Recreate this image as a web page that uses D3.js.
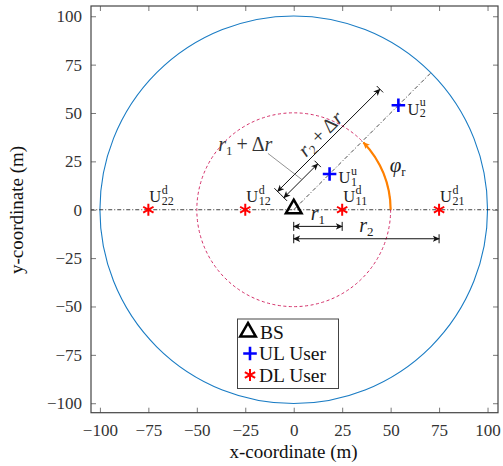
<!DOCTYPE html>
<html>
<head>
<meta charset="utf-8">
<script src="https://cdn.jsdelivr.net/npm/d3@7"></script>
<style>
  body { margin: 0; background: #fff; }
  svg { display: block; font-family: "Liberation Serif", serif; }
</style>
</head>
<body>
<div id="chart"></div>
<script>
'use strict';
// positions (m)
const bsX = [0], bsY = [0];
const ulX = [18.5, 54], ulY = [18.5, 54], ulSub = ["1", "2"];
const dlX = [25, -25, 75, -75], dlY = [0, 0, 0, 0], dlSub = ["11", "12", "21", "22"];
const circleR = [100, 50];
const rVals = [25, 75];          // r1, r2
const rDeltaVals = [25.5, 75.5]; // r1+dr, r2+dr
const phiDeg = 44;
const ticks = [-100, -75, -50, -25, 0, 25, 50, 75, 100];
const legendLabels = ["BS", "UL User", "DL User"];

const W = 503, H = 466;
const svg = d3.select("#chart").append("svg").attr("width", W).attr("height", H);

const x = d3.scaleLinear().domain([-104.6, 105.4]).range([91, 498]);
const y = d3.scaleLinear().domain([-104.9, 105.3]).range([412.7, 6]);
const k = x(1) - x(0);

const defs = svg.append("defs");
defs.append("clipPath").attr("id", "clip").append("rect")
  .attr("x", 91).attr("y", 6).attr("width", 407).attr("height", 406.7);
function arrowMarker(id, col) {
  defs.append("marker").attr("id", id).attr("viewBox", "0 -5 10 10")
    .attr("refX", 9).attr("refY", 0).attr("markerWidth", 7).attr("markerHeight", 7)
    .attr("markerUnits", "userSpaceOnUse").attr("orient", "auto-start-reverse")
    .append("path").attr("d", "M0,-4.5L10,0L0,4.5L2.5,0Z").attr("fill", col);
}
arrowMarker("ah", "#111");
arrowMarker("ahO", "#ff8000");

const plot = svg.append("g").attr("clip-path", "url(#clip)");

// circles
plot.selectAll("circle.r").data(circleR).enter().append("circle")
  .attr("cx", x(0)).attr("cy", y(0)).attr("r", d => d * k)
  .attr("fill", "none")
  .attr("stroke", (d, i) => i === 0 ? "#1a7cc4" : "#d4306a")
  .attr("stroke-width", (d, i) => i === 0 ? 1.1 : 1)
  .attr("stroke-dasharray", (d, i) => i === 0 ? null : "3,2.5");

// dash-dot reference lines
plot.append("line").attr("x1", x(-105)).attr("x2", x(105)).attr("y1", y(0)).attr("y2", y(0))
  .attr("stroke", "#111").attr("stroke-width", 0.8).attr("stroke-dasharray", "4,2,1,2");
const c45 = Math.cos(Math.PI / 4);
plot.append("line").attr("x1", x(0)).attr("y1", y(0)).attr("x2", x(100 * c45)).attr("y2", y(100 * c45))
  .attr("stroke", "#222").attr("stroke-width", 0.8).attr("stroke-dasharray", "4,2,1,2");

// dimension arrows
function dim(x1, y1, x2, y2) {
  const dx = x2 - x1, dy = y2 - y1, L = Math.hypot(dx, dy);
  const nx = -dy / L * 4.5, ny = dx / L * 4.5;
  const g = svg.append("g").attr("stroke", "#111").attr("stroke-width", 1);
  g.append("line").attr("x1", x1).attr("y1", y1).attr("x2", x2).attr("y2", y2)
    .attr("marker-start", "url(#ah)").attr("marker-end", "url(#ah)");
  [[x1, y1], [x2, y2]].forEach(p => g.append("line")
    .attr("x1", p[0] - nx).attr("y1", p[1] - ny).attr("x2", p[0] + nx).attr("y2", p[1] + ny));
}
dim(x(0), y(-8.6), x(rVals[0]), y(-8.6));
dim(x(0), y(-15), x(rVals[1]), y(-15));
const offs = [8, 12.6];
function diag(a, o) { return [x(a * c45 - o * c45), y(a * c45 + o * c45)]; }
rDeltaVals.forEach((v, i) => {
  const p1 = diag(0.8, offs[i]), p2 = diag(v, offs[i]);
  dim(p1[0], p1[1], p2[0], p2[1]);
});

// leader line
const lp = diag(14, offs[0]);
svg.append("line").attr("x1", x(-13.3)).attr("y1", y(29.1)).attr("x2", lp[0]).attr("y2", lp[1])
  .attr("stroke", "#777").attr("stroke-width", 0.8);

// phi arc
const arcP = d3.path();
const R = 50 * k;
arcP.moveTo(x(0) + R, y(0));
arcP.arc(x(0), y(0), R, 0, -phiDeg * Math.PI / 180, true);
svg.append("path").attr("d", arcP.toString()).attr("fill", "none")
  .attr("stroke", "#ff8000").attr("stroke-width", 2.2).attr("marker-end", "url(#ahO)");

// math labels
function mathLabel(sel, parts) {
  parts.forEach(p => {
    const t = sel.append("tspan").text(p.t);
    if (p.it) t.attr("font-style", "italic");
    if (p.fs) t.attr("font-size", p.fs);
    if (p.dy) t.attr("dy", p.dy);
  });
}
const lab1 = svg.append("text").attr("x", x(-25)).attr("y", y(30.3)).attr("text-anchor", "middle")
  .attr("font-size", 20).attr("fill", "#333");
mathLabel(lab1, [{t: "r", it: true}, {t: "1", fs: 13, dy: 4}, {t: "\u2009+\u2009\u0394", dy: -4}, {t: "r", it: true}]);
const lc = diag(37.5, 14.6);
const lab2 = svg.append("text").attr("transform", `translate(${lc[0]},${lc[1]}) rotate(-45)`)
  .attr("text-anchor", "middle").attr("font-size", 20).attr("fill", "#333");
mathLabel(lab2, [{t: "r", it: true}, {t: "2", fs: 13, dy: 4}, {t: "\u2009+\u2009\u0394", dy: -4}, {t: "r", it: true}]);
const lr1 = svg.append("text").attr("x", x(12.5)).attr("y", y(-5.2)).attr("text-anchor", "middle")
  .attr("font-size", 20).attr("fill", "#222");
mathLabel(lr1, [{t: "r", it: true}, {t: "1", fs: 13, dy: 4}]);
const lr2 = svg.append("text").attr("x", x(37.5)).attr("y", y(-11.4)).attr("text-anchor", "middle")
  .attr("font-size", 20).attr("fill", "#222");
mathLabel(lr2, [{t: "r", it: true}, {t: "2", fs: 13, dy: 4}]);
const lphi = svg.append("text").attr("x", x(49.5)).attr("y", y(19.3))
  .attr("font-size", 21).attr("fill", "#222");
mathLabel(lphi, [{t: "\u03c6", it: true}, {t: "r", fs: 13, dy: 4}]);

// markers
const triPath = d3.symbol().type(d3.symbolTriangle2).size(175)();
const plusPath = d3.symbol().type(d3.symbolPlus).size(62)();
const astPath = d3.symbol().type(d3.symbolAsterisk).size(100)();

// U with stacked superscript and subscript, kept in one text element
function userLabel(px, py, sup, sub) {
  const t = svg.append("text").attr("x", px).attr("y", py).attr("fill", "#222").attr("font-size", 16.5);
  const u = t.append("tspan").text("U");
  const w = u.node().getComputedTextLength();
  t.append("tspan").attr("font-size", 12).attr("dx", 0.5).attr("dy", -8.5).text(sup);
  t.append("tspan").attr("font-size", 12).attr("x", px + w + 0.5).attr("dy", 11).text(sub);
}

dlX.forEach((d, i) => {
  svg.append("path").attr("d", astPath).attr("transform", `translate(${x(d)},${y(dlY[i])})`)
    .attr("fill", "none").attr("stroke", "#ff0000").attr("stroke-width", 2);
  userLabel(x(d) + 1, y(dlY[i]) - 7.5, "d", dlSub[i]);
});
ulX.forEach((d, i) => {
  svg.append("path").attr("d", plusPath).attr("transform", `translate(${x(d)},${y(ulY[i])})`)
    .attr("fill", "none").attr("stroke", "#0000ff").attr("stroke-width", 2.6);
  userLabel(x(d) + 9, y(ulY[i]) + 9.5, "u", ulSub[i]);
});
bsX.forEach((d, i) => {
  svg.append("path").attr("d", triPath).attr("transform", `translate(${x(d)},${y(bsY[i]) - 1})`)
    .attr("fill", "none").attr("stroke", "#000").attr("stroke-width", 2.5).attr("stroke-linejoin", "miter");
});

// axes
const fmt = d3.format("d");
function styleAxis(g) {
  g.select(".domain").remove();
  g.selectAll(".tick line").attr("stroke", "#555").attr("stroke-width", 0.8);
  g.selectAll(".tick text").attr("fill", "#333").attr("font-size", 17)
    .attr("font-family", "Liberation Serif, serif");
}
svg.append("g").attr("transform", "translate(0,412.7)")
  .call(d3.axisBottom(x).tickValues(ticks).tickFormat(fmt).tickSizeInner(-5).tickSizeOuter(0).tickPadding(11))
  .call(styleAxis);
svg.append("g").attr("transform", "translate(0,6)")
  .call(d3.axisTop(x).tickValues(ticks).tickFormat("").tickSizeInner(-5).tickSizeOuter(0))
  .call(styleAxis);
svg.append("g").attr("transform", "translate(91,0)")
  .call(d3.axisLeft(y).tickValues(ticks).tickFormat(fmt).tickSizeInner(-5).tickSizeOuter(0).tickPadding(9))
  .call(styleAxis);
svg.append("g").attr("transform", "translate(498,0)")
  .call(d3.axisRight(y).tickValues(ticks).tickFormat("").tickSizeInner(-5).tickSizeOuter(0))
  .call(styleAxis);
svg.append("rect").attr("x", 91).attr("y", 6).attr("width", 407).attr("height", 406.7)
  .attr("fill", "none").attr("stroke", "#444").attr("stroke-width", 1.2);

svg.append("text").attr("x", 293.5).attr("y", 458).attr("text-anchor", "middle")
  .attr("font-size", 19).attr("fill", "#111").text("x-coordinate (m)");
svg.append("text").attr("transform", "translate(23,210) rotate(-90)").attr("text-anchor", "middle")
  .attr("font-size", 19).attr("fill", "#111").text("y-coordinate (m)");

// legend
const leg = svg.append("g");
leg.append("rect").attr("x", 237.5).attr("y", 319).attr("width", 101).attr("height", 69.5)
  .attr("fill", "#fff").attr("stroke", "#444").attr("stroke-width", 1);
const legPaths = [triPath, plusPath, astPath];
const legCols = ["#000", "#0000ff", "#ff0000"];
const legSW = [2.5, 2.6, 2];
legendLabels.forEach((t, i) => {
  const cy = 332 + i * 21.5;
  leg.append("path").attr("d", legPaths[i]).attr("transform", `translate(${i === 0 ? 248 : 250},${cy})`)
    .attr("fill", "none").attr("stroke", legCols[i]).attr("stroke-width", legSW[i]);
  leg.append("text").attr("x", i === 0 ? 260 : 259).attr("y", cy + 6.5).attr("font-size", 19.5)
    .attr("fill", "#111").text(t);
});
</script>
</body>
</html>
